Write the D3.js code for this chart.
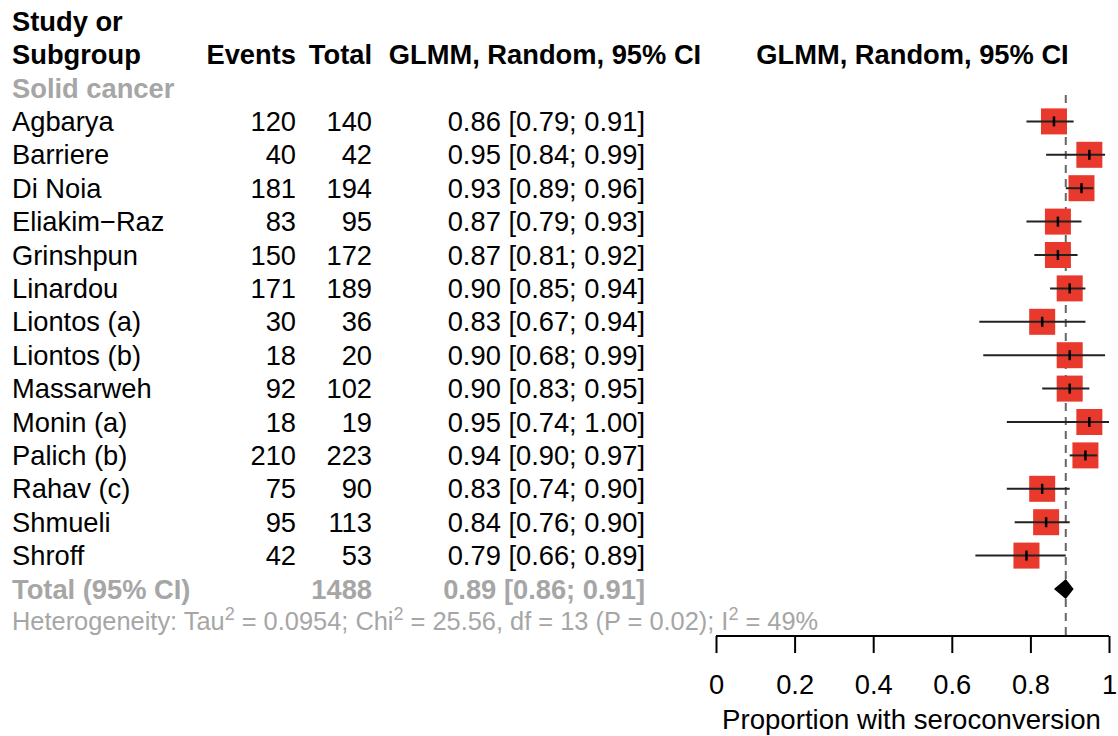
<!DOCTYPE html>
<html><head><meta charset="utf-8">
<script src="https://cdn.jsdelivr.net/npm/d3@7"></script>
<style>
body{margin:0;background:#fff;}
text{font-family:"Liberation Sans",Arial,Helvetica,sans-serif;}
</style></head>
<body><svg id="c" width="1118" height="736"></svg>
<script>
const studies = ["Agbarya","Barriere","Di Noia","Eliakim\u2212Raz","Grinshpun","Linardou","Liontos (a)","Liontos (b)","Massarweh","Monin (a)","Palich (b)","Rahav (c)","Shmueli","Shroff"];
const events = [120,40,181,83,150,171,30,18,92,18,210,75,95,42];
const totals = [140,42,194,95,172,189,36,20,102,19,223,90,113,53];
const est   = [0.86,0.95,0.93,0.87,0.87,0.90,0.83,0.90,0.90,0.95,0.94,0.83,0.84,0.79];
const lower = [0.79,0.84,0.89,0.79,0.81,0.85,0.67,0.68,0.83,0.74,0.90,0.74,0.76,0.66];
const upper = [0.91,0.99,0.96,0.93,0.92,0.94,0.94,0.99,0.95,1.00,0.97,0.90,0.90,0.89];
const pooled = {label:"Total (95% CI)", total:1488, est:0.89, lower:0.86, upper:0.91};
const subgroup = "Solid cancer";
const axisTicks = [0,0.2,0.4,0.6,0.8,1];
const axisTitle = "Proportion with seroconversion";
const colHeader = "GLMM, Random, 95% CI";

const svg = d3.select("#c");
const fs = 27.3;
const f2 = d3.format(".2f");
const x = d3.scaleLinear().domain([0,1]).range([716,1109]);
const y = d3.scaleLinear().domain([0,1]).range([21.2,54.6]); // row index -> y center
const gray = "#a6a6a6";

function txt(xp, row, s, opts={}) {
  return svg.append("text").attr("x", xp).attr("y", y(row))
    .attr("dy","0.35em")
    .attr("font-size", opts.size||fs)
    .attr("font-weight", opts.bold?"bold":"normal")
    .attr("fill", opts.fill||"#000")
    .attr("text-anchor", opts.anchor||"start")
    .text(s);
}
// headers
txt(12,0,"Study or",{bold:true});
txt(12,1,"Subgroup",{bold:true});
txt(296,1,"Events",{bold:true,anchor:"end"});
txt(372,1,"Total",{bold:true,anchor:"end"});
txt(545,1,colHeader,{bold:true,anchor:"middle"});
txt(x(0.5),1,colHeader,{bold:true,anchor:"middle"});
txt(12,2,subgroup,{bold:true,fill:gray});

studies.forEach((s,i)=>{
  const r = i+3;
  txt(12,r,s);
  txt(296,r,events[i],{anchor:"end"});
  txt(372,r,totals[i],{anchor:"end"});
  txt(645,r,`${f2(est[i])} [${f2(lower[i])}; ${f2(upper[i])}]`,{anchor:"end"});
});
const tr = studies.length+3;
txt(12,tr,pooled.label,{bold:true,fill:gray});
txt(372,tr,pooled.total,{bold:true,fill:gray,anchor:"end"});
txt(645,tr,`${f2(pooled.est)} [${f2(pooled.lower)}; ${f2(pooled.upper)}]`,{bold:true,fill:gray,anchor:"end"});

// heterogeneity
const ht = svg.append("text").attr("x",12).attr("y",y(tr+1)-1).attr("dy","0.35em")
  .attr("font-size",25.4).attr("fill",gray);
const parts = [["Heterogeneity: Tau",0],["2",1],[" = 0.0954; Chi",0],["2",1],[" = 25.56, df = 13 (P = 0.02); I",0],["2",1],[" = 49%",0]];
parts.forEach(([t,sup],k)=>{
  const sp = ht.append("tspan").text(t);
  if(sup){ sp.attr("font-size",18).attr("dy",-10); }
  else if(k>0) { sp.attr("dy",10); }
});

// axis
const axisY = 636;
const axisG = svg.append("g").attr("transform",`translate(0,${axisY})`)
  .call(d3.axisBottom(x).tickValues(axisTicks).tickFormat(d=>d3.format("")(d)).tickSize(17).tickPadding(22));
axisG.select(".domain").attr("stroke","#000").attr("stroke-width",2).attr("d",`M${x(0)},0H${x(1)}`);
axisG.selectAll(".tick line").attr("stroke","#000").attr("stroke-width",2);
axisG.selectAll(".tick text").attr("font-size",fs).attr("fill","#000").attr("font-family","Liberation Sans, Arial, sans-serif");
svg.append("text").attr("x",x(0.5)-1).attr("y",719).attr("dy","0.35em").attr("text-anchor","middle")
  .attr("font-size",fs+0.3).text(axisTitle);

// dashed pooled line
svg.append("line").attr("x1",x(pooled.est)).attr("x2",x(pooled.est))
  .attr("y1",y(2)+7).attr("y2",axisY)
  .attr("stroke","#666").attr("stroke-width",2).attr("stroke-dasharray","8,6");

// study marks
const sq = 26;
studies.forEach((s,i)=>{
  const cy = y(i+3);
  svg.append("rect").attr("x",x(est[i])-sq/2).attr("y",cy-sq/2).attr("width",sq).attr("height",sq)
    .attr("fill","#e8392c");
  svg.append("line").attr("x1",x(lower[i])).attr("x2",x(upper[i])).attr("y1",cy).attr("y2",cy)
    .attr("stroke","#222").attr("stroke-width",2);
  svg.append("line").attr("x1",x(est[i])).attr("x2",x(est[i])).attr("y1",cy-5).attr("y2",cy+5)
    .attr("stroke","#000").attr("stroke-width",2.5);
});
// diamond
const dy0 = y(tr);
svg.append("path").attr("d",`M${x(pooled.lower)},${dy0}L${x(pooled.est)},${dy0-10}L${x(pooled.upper)},${dy0}L${x(pooled.est)},${dy0+10}Z`)
  .attr("fill","#000");
</script></body></html>
